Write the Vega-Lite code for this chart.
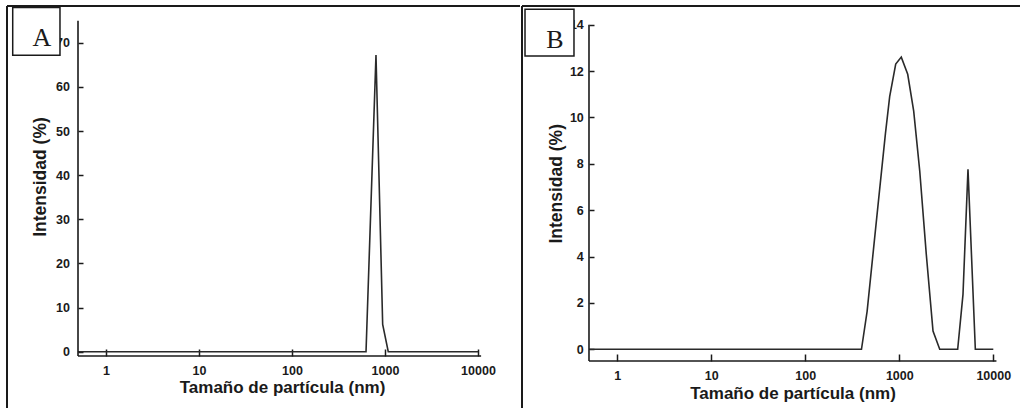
{
  "$schema": "https://vega.github.io/schema/vega-lite/v6.json",
  "background": "white",
  "padding": {"left": 6, "top": 5, "right": 0, "bottom": 0},
  "spacing": 0,
  "config": {
    "view": {"stroke": null},
    "font": "Liberation Sans",
    "axis": {
      "domain": false,
      "grid": false,
      "tickColor": "#1a1a1a",
      "tickWidth": 1.5,
      "labelFont": "Liberation Sans",
      "labelFontSize": 12.5,
      "labelFontWeight": "bold",
      "labelColor": "#1a1a1a",
      "titleFont": "Liberation Sans",
      "titleFontSize": 17,
      "titleFontWeight": "bold",
      "titleColor": "#1a1a1a"
    }
  },
  "datasets": {
    "A": [
      {"size": 0.5, "intensity": 0},
      {"size": 625, "intensity": 0},
      {"size": 800, "intensity": 67.2},
      {"size": 944, "intensity": 6.2},
      {"size": 1084, "intensity": 0},
      {"size": 10000, "intensity": 0}
    ],
    "B": [
      {"size": 0.5, "intensity": 0},
      {"size": 396, "intensity": 0},
      {"size": 455, "intensity": 1.65},
      {"size": 531, "intensity": 4.3},
      {"size": 618, "intensity": 6.9},
      {"size": 712, "intensity": 9.3},
      {"size": 790, "intensity": 10.9},
      {"size": 916, "intensity": 12.3},
      {"size": 1050, "intensity": 12.6},
      {"size": 1229, "intensity": 11.86},
      {"size": 1423, "intensity": 10.27},
      {"size": 1650, "intensity": 7.69},
      {"size": 1937, "intensity": 4.1},
      {"size": 2284, "intensity": 0.79},
      {"size": 2692, "intensity": 0},
      {"size": 4180, "intensity": 0},
      {"size": 4760, "intensity": 2.37},
      {"size": 5380, "intensity": 7.76},
      {"size": 6440, "intensity": 0},
      {"size": 10000, "intensity": 0}
    ]
  },
  "hconcat": [
    {
      "width": 513,
      "height": 403,
      "layer": [
        {
          "data": {"name": "A"},
          "mark": {"type": "line", "color": "#2a2a2a", "strokeWidth": 1.6},
          "encoding": {
            "x": {
              "field": "size", "type": "quantitative",
              "scale": {"type": "log", "domain": [0.0862, 28290], "nice": false},
              "axis": {
                "values": [1, 10, 100, 1000, 10000],
                "format": "d",
                "offset": -53,
                "tickSize": -7,
                "labelPadding": 15,
                "title": "Tamaño de partícula (nm)",
                "titleX": 275,
                "titleY": 36,
                "titleAlign": "center",
                "titleBaseline": "alphabetic"
              }
            },
            "y": {
              "field": "intensity", "type": "quantitative",
              "scale": {"domain": [-12.98, 78.32], "nice": false, "zero": false},
              "axis": {
                "values": [0, 5, 10, 15, 20, 25, 30, 35, 40, 45, 50, 55, 60, 65, 70, 75],
                "labelExpr": "datum.value % 10 === 0 ? datum.label : ''",
                "offset": -71,
                "tickSize": -5,
                "labelPadding": 13.5,
                "title": "Intensidad (%)",
                "titleFontSize": 17.5,
                "titleAngle": 270,
                "titleX": -38,
                "titleY": 170.5,
                "titleAlign": "center",
                "titleBaseline": "middle"
              }
            }
          }
        },
        {
          "data": {"values": [{}]},
          "mark": {"type": "rule", "color": "#1a1a1a", "strokeWidth": 1.6},
          "encoding": {"x": {"datum": 0.5}, "x2": {"datum": 10800}, "y": {"datum": -0.97}}
        },
        {
          "data": {"values": [{}]},
          "mark": {"type": "rule", "color": "#1a1a1a", "strokeWidth": 1.6},
          "encoding": {"x": {"datum": 0.5}, "y": {"datum": -0.97}, "y2": {"datum": 75}}
        },
        {
          "data": {"values": [{}]},
          "mark": {"type": "rule", "color": "#1a1a1a", "strokeWidth": 2},
          "encoding": {"x": {"datum": 0.0862}, "y": {"datum": -12.98}, "y2": {"datum": 78.32}}
        },
        {
          "data": {"values": [{}]},
          "mark": {"type": "rule", "color": "#1a1a1a", "strokeWidth": 2},
          "encoding": {"x": {"datum": 0.0862}, "x2": {"datum": 28290}, "y": {"datum": 78.32}}
        },
        {
          "data": {"values": [{}]},
          "mark": {"type": "rect", "fill": "white", "stroke": "#1a1a1a", "strokeWidth": 1.5},
          "encoding": {"x": {"datum": 0.0993}, "x2": {"datum": 0.32}, "y": {"datum": 77.97}, "y2": {"datum": 67.15}}
        },
        {
          "data": {"values": [{"label": "A"}]},
          "mark": {"type": "text", "font": "Liberation Serif", "fontSize": 26, "color": "#1a1a1a", "align": "center", "baseline": "alphabetic"},
          "encoding": {"x": {"datum": 0.205}, "y": {"datum": 69.26}, "text": {"field": "label"}}
        }
      ]
    },
    {
      "width": 498,
      "height": 403,
      "layer": [
        {
          "data": {"name": "B"},
          "mark": {"type": "line", "color": "#2a2a2a", "strokeWidth": 1.6},
          "encoding": {
            "x": {
              "field": "size", "type": "quantitative",
              "scale": {"type": "log", "domain": [0.0969, 19234], "nice": false},
              "axis": {
                "values": [1, 10, 100, 1000, 10000],
                "format": "d",
                "offset": -48,
                "tickSize": -7,
                "labelPadding": 15,
                "title": "Tamaño de partícula (nm)",
                "titleX": 270.5,
                "titleY": 37.5,
                "titleAlign": "center",
                "titleBaseline": "alphabetic"
              }
            },
            "y": {
              "field": "intensity", "type": "quantitative",
              "scale": {"domain": [-2.574, 14.804], "nice": false, "zero": false},
              "axis": {
                "values": [0, 1, 2, 3, 4, 5, 6, 7, 8, 9, 10, 11, 12, 13, 14],
                "labelExpr": "datum.value % 2 === 0 ? datum.label : ''",
                "offset": -67,
                "tickSize": -5,
                "labelPadding": 10.7,
                "title": "Intensidad (%)",
                "titleFontSize": 17.5,
                "titleAngle": 270,
                "titleX": -33,
                "titleY": 177.3,
                "titleAlign": "center",
                "titleBaseline": "middle"
              }
            }
          }
        },
        {
          "data": {"values": [{}]},
          "mark": {"type": "rule", "color": "#1a1a1a", "strokeWidth": 1.6},
          "encoding": {"x": {"datum": 0.5}, "x2": {"datum": 10800}, "y": {"datum": -0.505}}
        },
        {
          "data": {"values": [{}]},
          "mark": {"type": "rule", "color": "#1a1a1a", "strokeWidth": 1.6},
          "encoding": {"x": {"datum": 0.5}, "y": {"datum": -0.505}, "y2": {"datum": 14}}
        },
        {
          "data": {"values": [{}]},
          "mark": {"type": "rule", "color": "#1a1a1a", "strokeWidth": 2},
          "encoding": {"x": {"datum": 0.0969}, "y": {"datum": -2.574}, "y2": {"datum": 14.804}}
        },
        {
          "data": {"values": [{}]},
          "mark": {"type": "rule", "color": "#1a1a1a", "strokeWidth": 2},
          "encoding": {"x": {"datum": 0.0969}, "x2": {"datum": 19234}, "y": {"datum": 14.804}}
        },
        {
          "data": {"values": [{}]},
          "mark": {"type": "rect", "fill": "white", "stroke": "#1a1a1a", "strokeWidth": 1.5},
          "encoding": {"x": {"datum": 0.1043}, "x2": {"datum": 0.3462}, "y": {"datum": 14.66}, "y2": {"datum": 12.65}}
        },
        {
          "data": {"values": [{"label": "B"}]},
          "mark": {"type": "text", "font": "Liberation Serif", "fontSize": 26, "color": "#1a1a1a", "align": "center", "baseline": "alphabetic"},
          "encoding": {"x": {"datum": 0.2174}, "y": {"datum": 12.99}, "text": {"field": "label"}}
        }
      ]
    }
  ]
}
